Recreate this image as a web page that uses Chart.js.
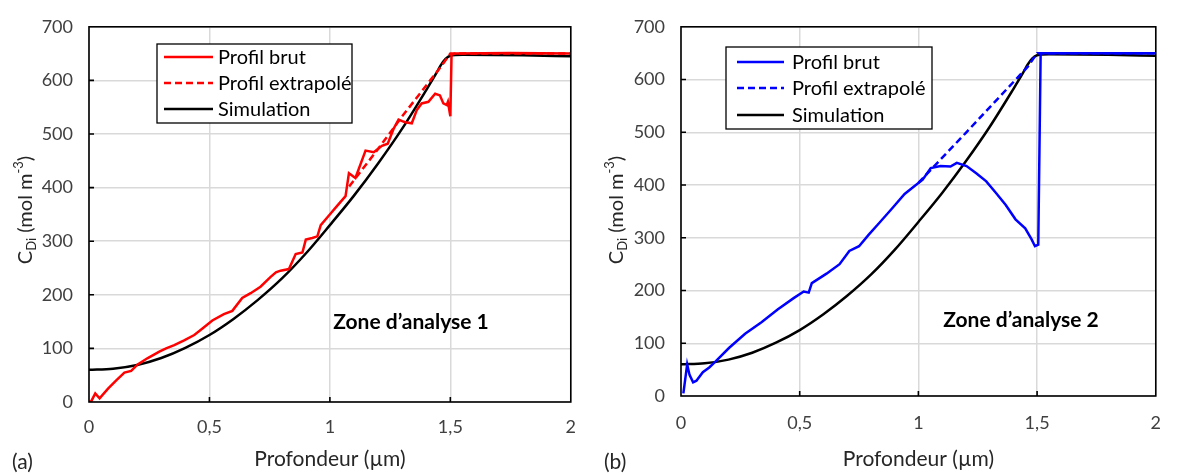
<!DOCTYPE html>
<html>
<head>
<meta charset="utf-8">
<script src="https://cdn.jsdelivr.net/npm/chart.js@4.4.1/dist/chart.umd.min.js"></script>
<style>
  html, body { margin: 0; padding: 0; background: #fff; }
  canvas { position: absolute; top: 0; }
  #chartA { left: 0; }
  #chartB { left: 590px; }
</style>
</head>
<body>
<canvas id="chartA" width="590" height="475"></canvas>
<canvas id="chartB" width="587" height="475"></canvas>
<script>
// axis ticks
const depthTicks = [0, 0.5, 1, 1.5, 2];
const concTicks = [0, 100, 200, 300, 400, 500, 600, 700];

// simulation (same for both zones)
const simDepth = [0, 0.1, 0.2, 0.3, 0.4, 0.5, 0.6, 0.7, 0.8, 0.9, 1.0, 1.1, 1.2, 1.3, 1.4, 1.44, 1.46, 1.48, 1.5, 1.55, 1.8, 2.0];
const simConc = [60, 62, 69, 82, 101, 125, 155, 190, 230, 277, 330, 385, 445, 510, 582, 612, 628, 640, 646, 648, 647, 645];

// zone 1 (a)
const rawDepthA = [0, 0.01, 0.026, 0.044, 0.079, 0.112, 0.147, 0.175, 0.202, 0.244, 0.292, 0.32, 0.354, 0.395, 0.437,
  0.471, 0.512, 0.56, 0.595, 0.636, 0.671, 0.712, 0.753, 0.776, 0.795, 0.83, 0.858, 0.886, 0.9, 0.927,
  0.948, 0.962, 0.996, 1.03, 1.065, 1.079, 1.106, 1.148, 1.182, 1.216, 1.24, 1.265, 1.285, 1.30, 1.313,
  1.34, 1.361, 1.381, 1.409, 1.437, 1.457, 1.471, 1.485, 1.49, 1.50, 1.505, 1.52, 1.75, 2.0];
const rawConcA = [0, 2, 16, 7, 25, 40, 55, 58, 70, 82, 94, 100, 106, 115, 125,
  137, 152, 164, 170, 194, 203, 215, 233, 242, 245, 248, 276, 279, 303, 306,
  309, 330, 348, 366, 384, 427, 418, 469, 466, 478, 482, 510, 527, 524, 522,
  520, 545, 557, 560, 575, 572, 557, 554, 560, 533, 648, 650, 651, 650];
const extDepthA = [1.08, 1.2, 1.3, 1.46, 1.5, 2.0];
const extConcA = [402, 472, 533, 625, 650, 650];

// zone 2 (b)
const rawDepthB = [0.01, 0.026, 0.036, 0.051, 0.065, 0.092, 0.119, 0.147, 0.202, 0.27, 0.339, 0.407, 0.476, 0.517, 0.538,
  0.551, 0.613, 0.668, 0.709, 0.75, 0.791, 0.833, 0.888, 0.942, 0.984, 1.018, 1.052, 1.093, 1.135, 1.162,
  1.203, 1.245, 1.286, 1.327, 1.368, 1.409, 1.45, 1.477, 1.491, 1.505, 1.515, 1.75, 2.0];
const rawConcB = [5, 60, 40, 26, 29, 45, 54, 66, 91, 118, 140, 164, 186, 198, 196,
  214, 232, 250, 275, 284, 306, 327, 355, 383, 398, 410, 432, 436, 435, 442,
  436, 422, 407, 385, 362, 335, 318, 297, 284, 287, 650, 650, 650];
const extDepthB = [1.0, 1.2, 1.46, 1.5, 2.0];
const extConcB = [404, 499, 624, 650, 650];

const seriesNames = ['Profil brut', 'Profil extrapolé', 'Simulation'];

Chart.defaults.font.family = 'Lato';
Chart.defaults.color = '#404040';

const pts = (xs, ys) => xs.map((x, i) => ({ x: x, y: ys[i] }));
const fmt = v => String(v).replace('.', ',');

// frame, inward ticks, custom legend with a box, titles, labels
const decor = {
  id: 'decor',
  afterDraw(chart) {
    const o = chart.options.plugins.decor;
    const ctx = chart.ctx, a = chart.chartArea;
    const xs = chart.scales.x, ys = chart.scales.y;
    ctx.save();

    ctx.strokeStyle = '#000';
    ctx.lineWidth = 1.6;
    ctx.strokeRect(a.left, a.top, a.right - a.left, a.bottom - a.top);
    ctx.beginPath();
    depthTicks.slice(1, -1).forEach(v => {
      const x = xs.getPixelForValue(v);
      ctx.moveTo(x, a.bottom); ctx.lineTo(x, a.bottom - 5);
    });
    concTicks.slice(1, -1).forEach(v => {
      const y = ys.getPixelForValue(v);
      ctx.moveTo(a.left, y); ctx.lineTo(a.left + 5, y);
    });
    ctx.stroke();

    // legend
    const L = o.legend;
    ctx.fillStyle = '#fff';
    ctx.fillRect(L.x, L.y, L.w, L.h);
    ctx.lineWidth = 1.3;
    ctx.strokeStyle = '#000';
    ctx.strokeRect(L.x, L.y, L.w, L.h);
    ctx.font = '20px Lato';
    ctx.textBaseline = 'middle';
    ctx.textAlign = 'left';
    chart.data.datasets.forEach((ds, i) => {
      const y = L.rows[i];
      ctx.strokeStyle = ds.borderColor;
      ctx.lineWidth = 2.5;
      ctx.setLineDash(ds.borderDash || []);
      ctx.beginPath();
      ctx.moveTo(L.x0, y); ctx.lineTo(L.x1, y);
      ctx.stroke();
      ctx.setLineDash([]);
      ctx.fillStyle = '#000';
      ctx.fillText(ds.label, L.tx, y + 1);
    });

    // zone label
    ctx.font = 'bold 21px Lato';
    ctx.textAlign = 'center';
    ctx.fillStyle = '#000';
    ctx.fillText(o.zone, o.zoneX, o.zoneY);

    // x title
    ctx.font = '21px Lato';
    ctx.fillStyle = '#262626';
    ctx.fillText('Profondeur (µm)', (a.left + a.right) / 2, 459);

    // panel letter
    ctx.textAlign = 'left';
    ctx.fillText(o.letter, o.letterX, 462);

    // y title with subscript / superscript
    const parts = [
      { t: 'C', s: 20, d: 0 },
      { t: 'Di', s: 13, d: 4 },
      { t: ' (mol m', s: 20, d: 0 },
      { t: '-3', s: 13, d: -9 },
      { t: ')', s: 20, d: 0 }
    ];
    let total = 0;
    parts.forEach(p => { ctx.font = p.s + 'px Lato'; p.w = ctx.measureText(p.t).width; total += p.w; });
    ctx.translate(o.yTitleX, o.yTitleY);
    ctx.rotate(-Math.PI / 2);
    ctx.textBaseline = 'alphabetic';
    let cx = -total / 2;
    parts.forEach(p => {
      ctx.font = p.s + 'px Lato';
      ctx.fillText(p.t, cx, 7 + p.d);
      cx += p.w;
    });
    ctx.restore();
  }
};

function makeChart(id, raw, ext, color, opt) {
  return new Chart(document.getElementById(id), {
    type: 'line',
    data: {
      datasets: [
        { label: seriesNames[0], data: raw, borderColor: color, borderWidth: 2.5, order: 1 },
        { label: seriesNames[1], data: ext, borderColor: color, borderWidth: 2.5, borderDash: [7, 4], order: 2 },
        { label: seriesNames[2], data: pts(simDepth, simConc), borderColor: '#000', borderWidth: 2.5,
          cubicInterpolationMode: 'monotone', order: 3 }
      ]
    },
    options: {
      responsive: false,
      animation: false,
      layout: { padding: { left: 0, right: opt.padRight, top: 16, bottom: 0 } },
      elements: { point: { radius: 0 }, line: { tension: 0 } },
      scales: {
        x: {
          type: 'linear', min: 0, max: 2,
          afterBuildTicks: s => { s.ticks = depthTicks.map(v => ({ value: v })); },
          afterFit: s => { s.height = opt.xHeight; },
          grid: { color: '#d9d9d9', lineWidth: 1.5, drawTicks: false },
          border: { display: false },
          ticks: { padding: opt.xPad, font: { size: 18 }, callback: v => fmt(v) }
        },
        y: {
          min: 0, max: 700,
          afterBuildTicks: s => { s.ticks = concTicks.map(v => ({ value: v })); },
          afterFit: s => { s.width = opt.yWidth; },
          grid: { color: '#d9d9d9', lineWidth: 1.5, drawTicks: false },
          border: { display: false },
          ticks: { padding: 16, font: { size: 18 } }
        }
      },
      plugins: {
        legend: { display: false },
        tooltip: { enabled: false },
        decor: opt.decor
      }
    },
    plugins: [decor]
  });
}

makeChart('chartA', pts(rawDepthA, rawConcA), pts(extDepthA, extConcA), '#ff0000', {
  padRight: 17, xHeight: 73, yWidth: 89, xPad: 14,
  decor: {
    legend: { x: 157, y: 44, w: 195, h: 79, x0: 164, x1: 213, tx: 218, rows: [57, 83, 109] },
    zone: 'Zone d’analyse 1', zoneX: 411, zoneY: 322,
    letter: '(a)', letterX: 12, yTitleX: 25, yTitleY: 210
  }
});

makeChart('chartB', pts(rawDepthB, rawConcB), pts(extDepthB, extConcB), '#0000ff', {
  padRight: 10, xHeight: 79, yWidth: 91, xPad: 16,
  decor: {
    legend: { x: 136, y: 47, w: 206, h: 82, x0: 147, x1: 194, tx: 202, rows: [62, 88, 115] },
    zone: 'Zone d’analyse 2', zoneX: 431, zoneY: 320,
    letter: '(b)', letterX: 14, yTitleX: 26, yTitleY: 210
  }
});
</script>
</body>
</html>
